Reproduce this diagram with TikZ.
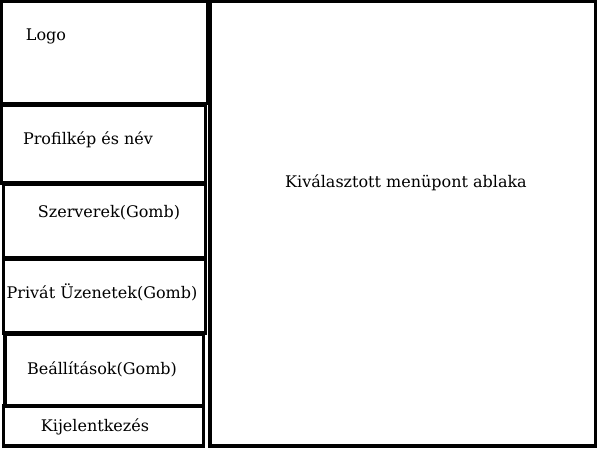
\documentclass[tikz,border=0pt]{standalone}
\usepackage{fontspec}
\setmainfont{DejaVu Serif}
\usetikzlibrary{arrows}

\begin{document}
\begin{tikzpicture}[line cap=rect,line join=miter,x=0.75pt,y=-0.75pt,
    panel/.style={line width=2.3pt,color=black},
    label/.style={font=\fontsize{12}{14}\selectfont,inner sep=0pt}]
      \useasboundingbox (0,0) rectangle (600,450);
      % bal oldali menu
      \draw[panel] (1.5,1.5) rectangle (208,103.5);
      \draw[panel] (1.5,105) rectangle (205.5,183);
      \draw[panel] (3.5,184.5) rectangle (205.5,258);
      \draw[panel] (3.5,259.5) rectangle (205.5,333);
      \draw[panel] (5,334.5) rectangle (203.5,405.5);
      \draw[panel] (3.5,406) rectangle (203.5,446);
      % jobb oldali ablak
      \draw[panel] (210,1.5) rectangle (595.5,446);
      \draw (46,36) node[label] (logo) {Logo};
      \draw (88,140) node[label] (profil) {Profilkép és név};
      \draw (109,213) node[label] (szerverek) {Szerverek(Gomb)};
      \draw (102,292) node[label] (privat) {Privát Üzenetek(Gomb)};
      \draw (102,369) node[label] (beallitasok) {Beállítások(Gomb)};
      \draw (95,427) node[label] (kilepes) {Kijelentkezés};
      \draw (406,183) node[label] (ablak) {Kiválasztott menüpont ablaka};
\end{tikzpicture}
\end{document}
